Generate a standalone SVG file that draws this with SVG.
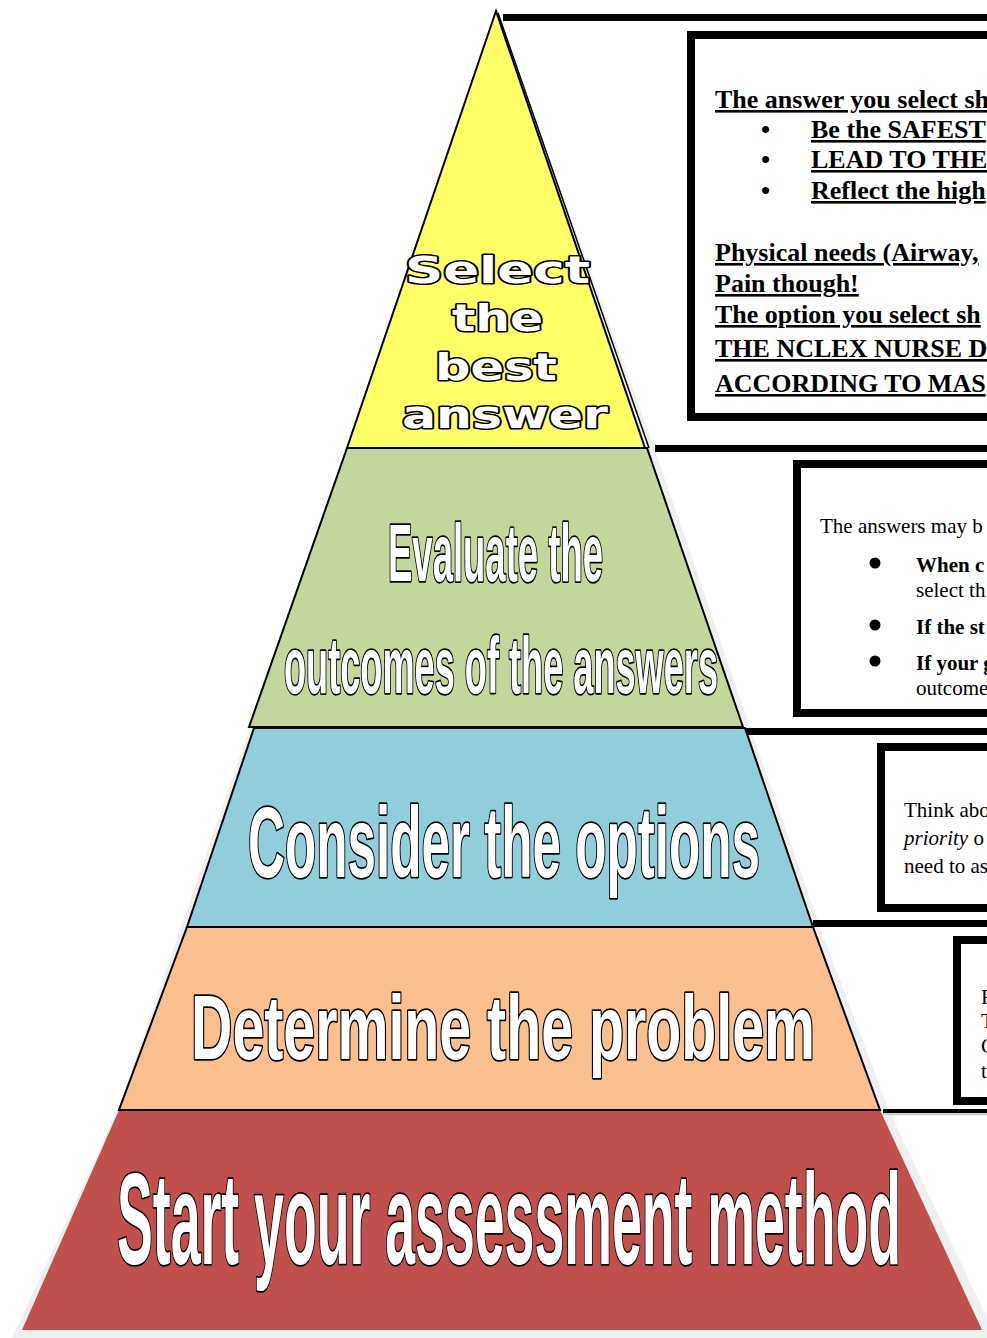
<svg xmlns="http://www.w3.org/2000/svg" width="987" height="1338" viewBox="0 0 987 1338">
<style>
.lay{stroke:#000;stroke-width:2;stroke-linejoin:miter}
.conn{stroke:#000;stroke-width:7;fill:none}
.box{fill:#fff;stroke:#000;stroke-width:8}
.t1{font-family:"Liberation Serif","Times New Roman",serif;font-size:26px;font-weight:bold;text-decoration:underline;fill:#000}
.bul{font-family:"Liberation Serif","Times New Roman",serif;font-size:26px;font-weight:bold;fill:#000}
.t2{font-family:"Liberation Serif","Times New Roman",serif;font-size:21px;fill:#000}
.b{font-weight:bold}
.wide{font-family:"DejaVu Sans",sans-serif;font-weight:bold;font-size:38px;fill:#fff;stroke:#000;stroke-width:3;paint-order:stroke;stroke-linejoin:round}
.nar{font-family:"Liberation Sans",Arial,sans-serif;font-weight:bold;fill:#fff;stroke:#000;stroke-width:3.5;paint-order:stroke;stroke-linejoin:round}
</style>
<rect width="987" height="1338" fill="#fff"/>
<g id="shadow">
<polygon points="497,12 655,450 750,727 820,927 888,1108 987,1318 987,1338 12,1338 117,1112" fill="#efefef"/>
</g>
<g id="connectors">
<line class="conn" x1="503" y1="17.5" x2="987" y2="17.5"/>
<line class="conn" x1="655" y1="448.5" x2="987" y2="448.5"/>
<line class="conn" x1="739" y1="731.5" x2="987" y2="731.5"/>
<line class="conn" x1="813" y1="923.5" x2="987" y2="923.5"/>
<line x1="883" y1="1114" x2="987" y2="1114" stroke="#cfcfcf" stroke-width="3"/>
<line x1="883" y1="1111" x2="987" y2="1111" stroke="#000" stroke-width="4"/>
</g>
<g id="layer-red">
<polygon points="119,1110 880,1110 982,1330 22,1330" fill="#c0504d"/>
<text class="nar" x="117" y="1264" font-size="130" textLength="784" lengthAdjust="spacingAndGlyphs">Start your assessment method</text>
</g>
<g id="layer-orange">
<polygon class="lay" points="187,927 813,927 880,1110 119,1110" fill="#f9bf8f"/>
<text class="nar" x="191" y="1059" font-size="90" textLength="624" lengthAdjust="spacingAndGlyphs">Determine the problem</text>
</g>
<g id="layer-blue">
<polygon class="lay" points="254,728 745,728 813,927 187,927" fill="#92cddc"/>
<text class="nar" x="248" y="877" font-size="100" textLength="512" lengthAdjust="spacingAndGlyphs">Consider the options</text>
</g>
<g id="layer-green">
<polygon class="lay" points="347,448 647,448 743,727 249,727" fill="#c3d69b"/>
<text class="nar" x="388" y="581" font-size="82" textLength="215" lengthAdjust="spacingAndGlyphs">Evaluate the</text>
<text class="nar" x="284" y="693" font-size="80" textLength="434" lengthAdjust="spacingAndGlyphs">outcomes of the answers</text>
</g>
<g id="layer-yellow">
<polygon class="lay" points="496,11 645,448 347,448" fill="#ffff66"/>
<line x1="498" y1="13" x2="649" y2="448" stroke="#000" stroke-width="1.5"/>
<text class="wide" x="405" y="283" textLength="185" lengthAdjust="spacingAndGlyphs">Select</text>
<text class="wide" x="452" y="331" textLength="91" lengthAdjust="spacingAndGlyphs">the</text>
<text class="wide" x="435" y="380" textLength="122" lengthAdjust="spacingAndGlyphs">best</text>
<text class="wide" x="402" y="428" textLength="206" lengthAdjust="spacingAndGlyphs">answer</text>
</g>
<g id="box1">
<rect class="box" x="691" y="35" width="310" height="382"/>
<text class="t1" x="715" y="108">The answer you select sh</text>
<text class="bul" x="761" y="138">•</text>
<text class="t1" x="811" y="138">Be the SAFEST</text>
<text class="bul" x="761" y="168">•</text>
<text class="t1" x="811" y="168">LEAD TO THE</text>
<text class="bul" x="761" y="199">•</text>
<text class="t1" x="811" y="199">Reflect the high</text>
<text class="t1" x="715" y="261">Physical needs (Airway,</text>
<text class="t1" x="715" y="292">Pain though!</text>
<text class="t1" x="715" y="323">The option you select sh</text>
<text class="t1" x="715" y="357">THE NCLEX NURSE D</text>
<text class="t1" x="715" y="392">ACCORDING TO MAS</text>
</g>
<g id="box2">
<rect class="box" x="797" y="464" width="210" height="249"/>
<text class="t2" x="820" y="533">The answers may b</text>
<circle cx="875" cy="563" r="5.5"/>
<circle cx="875" cy="625" r="5.5"/>
<circle cx="875" cy="661" r="5.5"/>
<text class="t2 b" x="916" y="572">When c</text>
<text class="t2" x="916" y="597">select th</text>
<text class="t2 b" x="916" y="634">If the st</text>
<text class="t2 b" x="916" y="670">If your g</text>
<text class="t2" x="916" y="695">outcome</text>
</g>
<g id="box3">
<rect class="box" x="881" y="747" width="120" height="161"/>
<text class="t2" x="904" y="817">Think abo</text>
<text class="t2" x="904" y="845"><tspan font-style="italic">priority</tspan> o</text>
<text class="t2" x="904" y="873">need to as</text>
</g>
<g id="box4">
<rect class="box" x="957" y="940" width="40" height="161"/>
<text class="t2" x="981" y="1004">F</text>
<text class="t2" x="981" y="1028">T</text>
<text class="t2" x="981" y="1053">C</text>
<text class="t2" x="981" y="1078">t</text>
</g>
</svg>
